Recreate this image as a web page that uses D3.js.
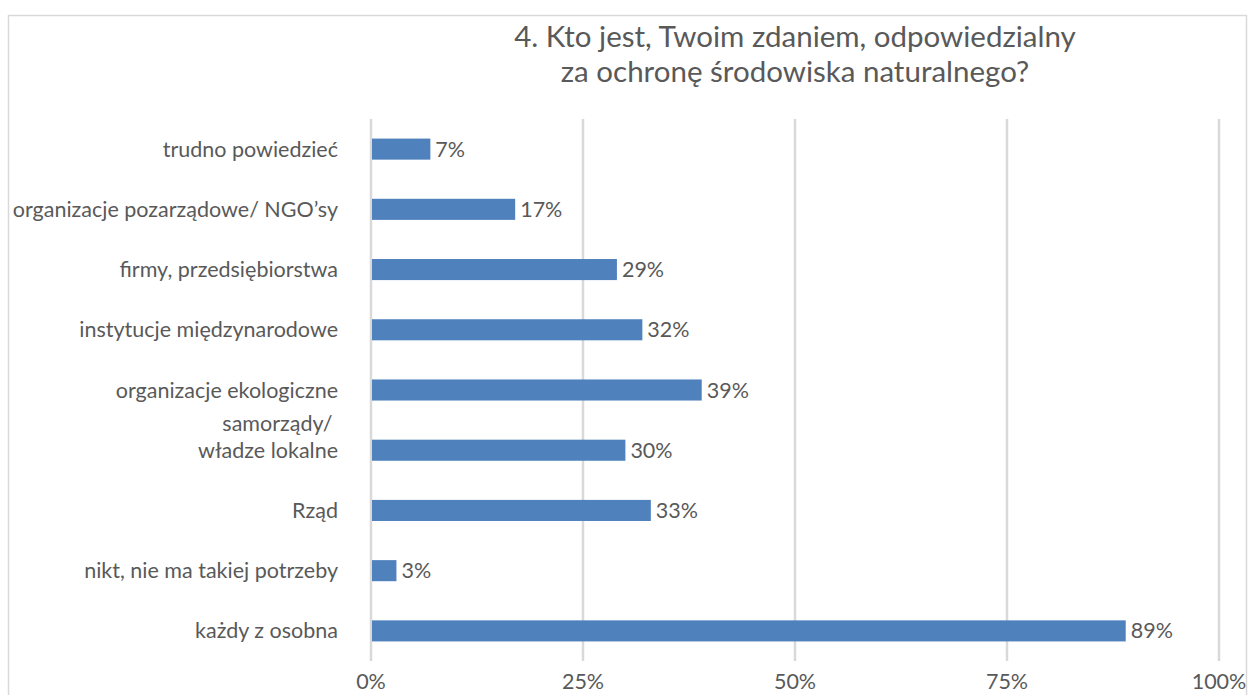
<!DOCTYPE html>
<html><head><meta charset="utf-8">
<script src="https://cdn.jsdelivr.net/npm/d3@7"></script>
<style>body{margin:0;background:#fff}svg{display:block}</style>
</head><body>
<script>
const categories = ["trudno powiedzieć","organizacje pozarządowe/ NGO’sy","firmy, przedsiębiorstwa","instytucje międzynarodowe","organizacje ekologiczne","samorządy/ \nwładze lokalne","Rząd","nikt, nie ma takiej potrzeby","każdy z osobna"];
const values = [7,17,29,32,39,30,33,3,89];
const ticks = [0,25,50,75,100];
const titleLines = ["4. Kto jest, Twoim zdaniem, odpowiedzialny","za ochronę środowiska naturalnego?"];

const W=1249,H=695;
const font="Lato, 'Open Sans', sans-serif";
const textColor="#595959";
const svg=d3.select("body").append("svg").attr("width",W).attr("height",H);
svg.append("rect").attr("x",8.5).attr("y",15.5).attr("width",1238).attr("height",700)
  .attr("fill","#fff").attr("stroke","#d9d9d9").attr("stroke-width",1.5);

const x=d3.scaleLinear().domain([0,100]).range([371,1219]);
const y=d3.scaleBand().domain(categories).range([119,661]).paddingInner(0.65).paddingOuter(0.325);

// grid
svg.append("g").selectAll("line").data(ticks).join("line")
  .attr("x1",d=>x(d)).attr("x2",d=>x(d)).attr("y1",119).attr("y2",661)
  .attr("stroke","#d9d9d9").attr("stroke-width",2.5);

// bars
svg.append("g").selectAll("rect").data(values).join("rect")
  .attr("x",x(0)+1).attr("y",(d,i)=>y(categories[i]))
  .attr("width",d=>x(d)-x(0)-1).attr("height",y.bandwidth())
  .attr("fill","#4f81bd");

// value labels
svg.append("g").selectAll("text").data(values).join("text")
  .attr("x",d=>x(d)+5).attr("y",(d,i)=>y(categories[i])+y.bandwidth()/2)
  .attr("dy","0.35em").attr("font-family",font).attr("font-size",21.5).attr("fill",textColor)
  .text(d=>d+"%");

// category labels
const cl=svg.append("g").selectAll("text").data(categories).join("text")
  .attr("text-anchor","end").attr("font-family",font).attr("font-size",21.5).attr("fill",textColor)
  .attr("y",d=>y(d)+y.bandwidth()/2);
cl.each(function(d){
  const lines=d.split("\n");
  const t=d3.select(this);
  lines.forEach((l,i)=>{
    t.append("tspan").attr("x",338).attr("xml:space","preserve").style("white-space","pre")
     .attr("dy",i===0?(0.35-(lines.length-1)*1.25)+"em":"1.25em").text(l);
  });
});

// x axis labels
svg.append("g").selectAll("text").data(ticks).join("text")
  .attr("x",d=>x(d)).attr("y",689).attr("text-anchor","middle")
  .attr("font-family",font).attr("font-size",21.5).attr("fill",textColor)
  .text(d=>d+"%");

// title
svg.append("g").selectAll("text").data(titleLines).join("text")
  .attr("x",795).attr("y",(d,i)=>47+i*35).attr("text-anchor","middle")
  .attr("font-family",font).attr("font-size",29.5).attr("fill",textColor)
  .text(d=>d);
</script>
</body></html>
